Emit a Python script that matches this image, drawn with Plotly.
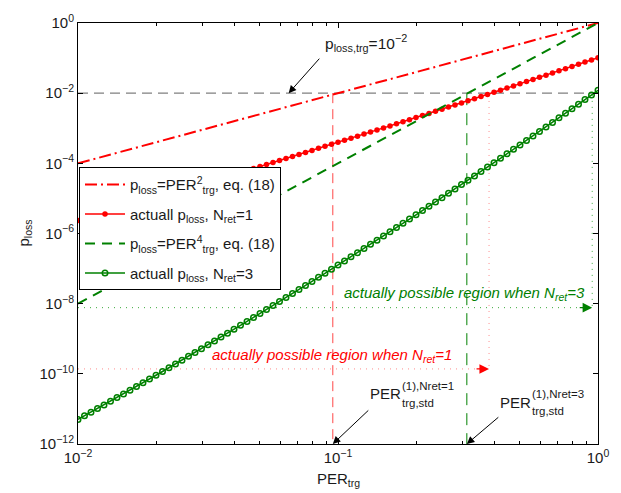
import math
import plotly.graph_objects as go

# ---------------- data ----------------
per_trg = [
    0.01, 0.010593, 0.01122, 0.011885, 0.012589, 0.013335, 0.014125, 0.014962, 0.015849, 0.016788,
    0.017783, 0.018836, 0.019953, 0.021135, 0.022387, 0.023714, 0.025119, 0.026607, 0.028184, 0.029854,
    0.031623, 0.033497, 0.035481, 0.037584, 0.039811, 0.04217, 0.044668, 0.047315, 0.050119, 0.053088,
    0.056234, 0.059566, 0.063096, 0.066834, 0.070795, 0.074989, 0.079433, 0.08414, 0.089125, 0.094406,
    0.1, 0.10593, 0.1122, 0.11885, 0.12589, 0.13335, 0.14125, 0.14962, 0.15849, 0.16788,
    0.17783, 0.18836, 0.19953, 0.21135, 0.22387, 0.23714, 0.25119, 0.26607, 0.28184, 0.29854,
    0.31623, 0.33497, 0.35481, 0.37584, 0.39811, 0.4217, 0.44668, 0.47315, 0.50119, 0.53088,
    0.56234, 0.59566, 0.63096, 0.66834, 0.70795, 0.74989, 0.79433, 0.8414, 0.89125, 0.94406,
    1.0,
]

p_actual_nret1 = [
    2.34e-6, 2.652e-6, 3.00e-6, 3.40e-6, 3.845e-6, 4.355e-6, 4.93e-6, 5.59e-6, 6.33e-6, 7.18e-6,
    8.14e-6, 9.23e-6, 1.047e-5, 1.189e-5, 1.349e-5, 1.532e-5, 1.739e-5, 1.976e-5, 2.245e-5, 2.551e-5,
    2.90e-5, 3.299e-5, 3.752e-5, 4.268e-5, 4.857e-5, 5.53e-5, 6.295e-5, 7.17e-5, 8.17e-5, 9.31e-5,
    1.061e-4, 1.209e-4, 1.379e-4, 1.573e-4, 1.795e-4, 2.048e-4, 2.338e-4, 2.670e-4, 3.049e-4, 3.484e-4,
    3.981e-4, 4.55e-4, 5.203e-4, 5.95e-4, 6.807e-4, 7.788e-4, 8.913e-4, 1.020e-3, 1.168e-3, 1.339e-3,
    1.533e-3, 1.757e-3, 2.014e-3, 2.309e-3, 2.648e-3, 3.039e-3, 3.487e-3, 4.002e-3, 4.594e-3, 5.276e-3,
    6.061e-3, 6.964e-3, 8.002e-3, 9.20e-3, 1.058e-2, 1.217e-2, 1.400e-2, 1.611e-2, 1.854e-2, 2.135e-2,
    2.458e-2, 2.832e-2, 3.263e-2, 3.761e-2, 4.335e-2, 5.00e-2, 5.767e-2, 6.652e-2, 7.678e-2, 8.862e-2,
    1.023e-1,
]

p_actual_nret3 = [
    5.012e-12, 6.352e-12, 8.058e-12, 1.023e-11, 1.300e-11, 1.653e-11, 2.104e-11, 2.680e-11, 3.417e-11, 4.359e-11,
    5.567e-11, 7.115e-11, 9.101e-11, 1.165e-10, 1.493e-10, 1.914e-10, 2.457e-10, 3.156e-10, 4.057e-10, 5.220e-10,
    6.722e-10, 8.663e-10, 1.117e-9, 1.443e-9, 1.864e-9, 2.410e-9, 3.119e-9, 4.040e-9, 5.237e-9, 6.795e-9,
    8.823e-9, 1.147e-8, 1.491e-8, 1.941e-8, 2.529e-8, 3.298e-8, 4.304e-8, 5.622e-8, 7.349e-8, 9.614e-8,
    1.259e-7, 1.650e-7, 2.164e-7, 2.840e-7, 3.732e-7, 4.907e-7, 6.457e-7, 8.504e-7, 1.121e-6, 1.479e-6,
    1.953e-6, 2.580e-6, 3.413e-6, 4.517e-6, 5.984e-6, 7.935e-6, 1.053e-5, 1.398e-5, 1.859e-5, 2.473e-5,
    3.292e-5, 4.387e-5, 5.851e-5, 7.810e-5, 1.043e-4, 1.395e-4, 1.867e-4, 2.500e-4, 3.351e-4, 4.495e-4,
    6.034e-4, 8.108e-4, 1.090e-3, 1.468e-3, 1.977e-3, 2.666e-3, 3.597e-3, 4.857e-3, 6.565e-3, 8.880e-3,
    1.202e-2,
]

per_ends = [0.01, 1.0]
p_eq18_nret1 = [1e-4, 1.0]      # PER^2
p_eq18_nret3 = [1e-8, 1.0]      # PER^4

p_loss_trg = 1e-2
per_std_nret1 = 0.0955
per_std_nret3 = 0.313
per_act_nret1 = 0.381
per_act_nret3 = 0.95
region_p_nret1 = 1.38e-10
region_p_nret3 = 7.7e-9
p_bottom = 1e-12

x_tickvals = [0.01, 0.1, 1.0]
x_ticktext = ["10<sup>−2</sup>", "10<sup>−1</sup>", "10<sup>0</sup>"]
x_minor_ticks = [0.02, 0.03, 0.04, 0.05, 0.06, 0.07, 0.08, 0.09,
                 0.2, 0.3, 0.4, 0.5, 0.6, 0.7, 0.8, 0.9]
y_tickvals = [1e-12, 1e-10, 1e-8, 1e-6, 1e-4, 1e-2, 1.0]
y_ticktext = ["10<sup>−12</sup>", "10<sup>−10</sup>", "10<sup>−8</sup>", "10<sup>−6</sup>",
              "10<sup>−4</sup>", "10<sup>−2</sup>", "10<sup>0</sup>"]

# ---------------- styles ----------------
RED = "rgb(255,0,0)"
GREEN = "rgb(0,128,0)"
FONT = "Liberation Sans, Arial, Helvetica, sans-serif"
TXT = "#1a1a1a"

fig = go.Figure()

# helper lines (not in legend)
fig.add_trace(go.Scatter(x=per_ends, y=[p_loss_trg, p_loss_trg], mode="lines",
                         line=dict(color="rgb(128,128,128)", width=1.3, dash="10px,6px"),
                         showlegend=False, hoverinfo="skip"))
fig.add_trace(go.Scatter(x=[per_std_nret1, per_std_nret1], y=[p_loss_trg, p_bottom], mode="lines",
                         line=dict(color="rgb(255,70,70)", width=1, dash="10px,6px"),
                         showlegend=False, hoverinfo="skip"))
fig.add_trace(go.Scatter(x=[per_std_nret3, per_std_nret3], y=[p_loss_trg, p_bottom], mode="lines",
                         line=dict(color=GREEN, width=1, dash="12px,8px"),
                         showlegend=False, hoverinfo="skip"))
fig.add_trace(go.Scatter(x=[per_ends[0], per_act_nret1, per_act_nret1],
                         y=[region_p_nret1, region_p_nret1, p_loss_trg], mode="lines",
                         line=dict(color="rgb(255,140,140)", width=1, dash="1px,5px"),
                         showlegend=False, hoverinfo="skip"))
fig.add_trace(go.Scatter(x=[per_ends[0], per_act_nret3, per_act_nret3],
                         y=[region_p_nret3, region_p_nret3, p_loss_trg], mode="lines",
                         line=dict(color="rgb(60,170,60)", width=1, dash="1px,5px"),
                         showlegend=False, hoverinfo="skip"))

# main series
fig.add_trace(go.Scatter(x=per_ends, y=p_eq18_nret1, mode="lines",
                         name="p<sub>loss</sub>=PER<sup>2</sup><sub>trg</sub>, eq. (18)",
                         line=dict(color=RED, width=2, dash="12px,4px,2px,4px"),
                         legendgroup="a"))
fig.add_trace(go.Scatter(x=per_trg, y=p_actual_nret1, mode="lines+markers",
                         name="actuall p<sub>loss</sub>, N<sub>ret</sub>=1",
                         line=dict(color=RED, width=1.5),
                         marker=dict(symbol="circle", size=5.5, color=RED),
                         legendgroup="b"))
fig.add_trace(go.Scatter(x=per_ends, y=p_eq18_nret3, mode="lines",
                         name="p<sub>loss</sub>=PER<sup>4</sup><sub>trg</sub>, eq. (18)",
                         line=dict(color=GREEN, width=2, dash="10px,7px"),
                         legendgroup="c"))
fig.add_trace(go.Scatter(x=per_trg, y=p_actual_nret3, mode="lines+markers",
                         name="actuall p<sub>loss</sub>, N<sub>ret</sub>=3",
                         line=dict(color=GREEN, width=1.5),
                         marker=dict(symbol="circle-open", size=5.5, color=GREEN, line=dict(width=1.5)),
                         legendgroup="d"))

L = math.log10
annotations = []

# arrow heads on the dotted region lines
annotations.append(dict(x=L(per_act_nret1), y=L(region_p_nret1), xref="x", yref="y",
                        ax=-14, ay=0, text="", showarrow=True, arrowhead=2, arrowsize=1.6,
                        arrowwidth=1.2, arrowcolor=RED))
annotations.append(dict(x=L(per_act_nret3), y=L(region_p_nret3), xref="x", yref="y",
                        ax=-14, ay=0, text="", showarrow=True, arrowhead=2, arrowsize=1.6,
                        arrowwidth=1.2, arrowcolor=GREEN))

# black pointer arrows
annotations.append(dict(x=L(0.0646), y=L(p_loss_trg), xref="x", yref="y", ax=32, ay=-36,
                        text="", showarrow=True, arrowhead=2, arrowsize=1.5, arrowwidth=1,
                        arrowcolor="black"))
annotations.append(dict(x=L(per_std_nret1), y=L(p_bottom), xref="x", yref="y", ax=37, ay=-35,
                        text="", showarrow=True, arrowhead=2, arrowsize=1.5, arrowwidth=1,
                        arrowcolor="black"))
annotations.append(dict(x=L(per_std_nret3), y=L(p_bottom), xref="x", yref="y", ax=33, ay=-28,
                        text="", showarrow=True, arrowhead=2, arrowsize=1.5, arrowwidth=1,
                        arrowcolor="black"))

# plot area in pixels: x 78..598, y 18..444
def px(x):
    return (x - 78) / 520.0

def py(y):
    return (444 - y) / 426.0

def txt(x, y, s, size, color=TXT, italic=False, angle=0, xanchor="left"):
    annotations.append(dict(x=px(x), y=py(y), xref="paper", yref="paper", text=s,
                            showarrow=False, xanchor=xanchor, yanchor="middle", textangle=angle,
                            font=dict(family=FONT, size=size, color=color)))

txt(323, 38, "p<sub>loss,trg</sub>=10<sup>−2</sup>", 15.5)
txt(342, 292, "<i>actually possible region when N<sub>ret</sub>=3</i>", 15, color=GREEN)
txt(210, 354, "<i>actually possible region when N<sub>ret</sub>=1</i>", 15, color=RED)

# PER^(1),Nret=1 _trg,std  (stacked super/subscript)
txt(368, 393, "PER", 15)
txt(400, 385, "(1),Nret=1", 11.5)
txt(400, 403, "trg,std", 11.5)
txt(498, 402, "PER", 15)
txt(530, 393, "(1),Nret=3", 11.5)
txt(530, 411, "trg,std", 11.5)

# axis titles
txt(24, 231, "p<sub>loss</sub>", 15, angle=-90, xanchor="center")
txt(338, 480, "PER<sub>trg</sub>", 15, xanchor="center")

axis_common = dict(type="log", showline=True, linecolor="black", linewidth=1, mirror="allticks",
                   ticks="inside", ticklen=5, tickcolor="black", showgrid=False, zeroline=False,
                   tickfont=dict(family=FONT, size=15, color=TXT))

fig.update_layout(
    width=621, height=493,
    margin=dict(l=78, r=23, t=18, b=49),
    paper_bgcolor="white", plot_bgcolor="white",
    font=dict(family=FONT, size=15, color=TXT),
    xaxis=dict(range=[-2, 0], tickmode="array", tickvals=x_tickvals, ticktext=x_ticktext,
               minor=dict(tickmode="array", tickvals=x_minor_ticks, ticks="inside", ticklen=3,
                          tickcolor="black"),
               **axis_common),
    yaxis=dict(range=[-12, 0], tickmode="array", tickvals=y_tickvals, ticktext=y_ticktext,
               **axis_common),
    legend=dict(x=px(79), y=py(164), xanchor="left", yanchor="top", bgcolor="white",
                bordercolor="black", borderwidth=1, font=dict(family=FONT, size=15, color=TXT),
                itemwidth=40, tracegroupgap=7, traceorder="grouped"),
    annotations=annotations,
    showlegend=True,
)

fig.write_html("out.html", config={"displayModeBar": False},
               post_script="document.body.style.margin='0';")
